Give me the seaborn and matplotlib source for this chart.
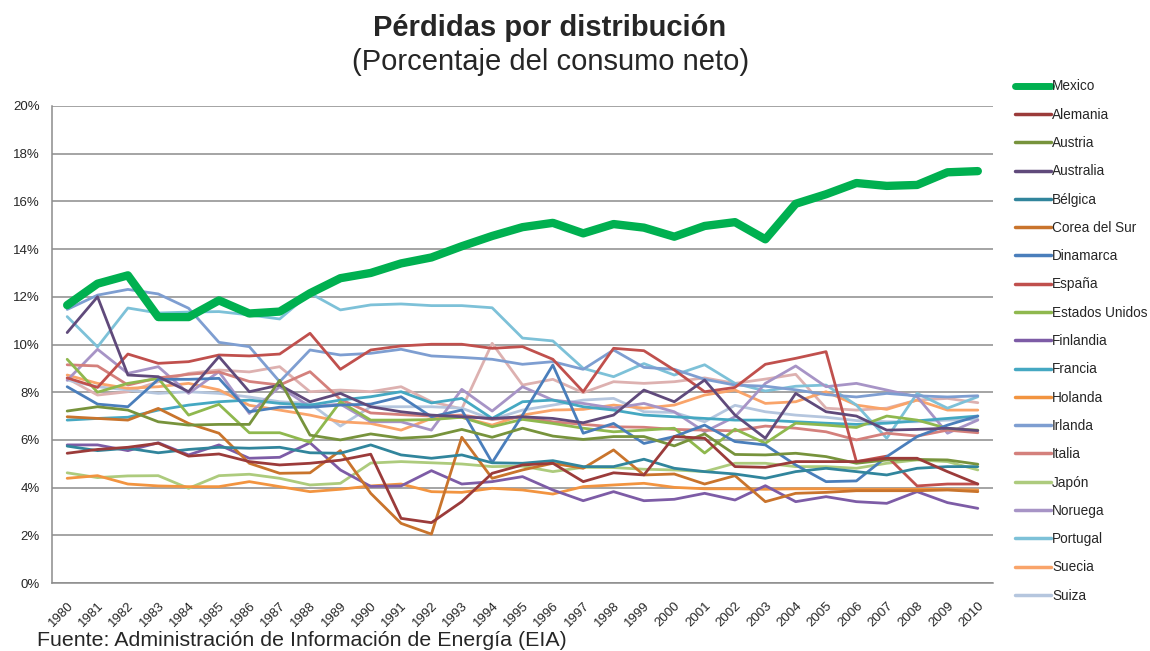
import pandas as pd
import matplotlib
matplotlib.use("Agg")
import matplotlib.pyplot as plt
import seaborn as sns
from matplotlib.lines import Line2D
from matplotlib.ticker import MultipleLocator, FuncFormatter

# Data: distribution losses (% of net consumption), 1980-2010
years = list(range(1980, 2011))

mexico = [11.65, 12.55, 12.9, 11.15, 11.15, 11.85, 11.3, 11.38, 12.15, 12.78, 13.0,
          13.4, 13.65, 14.12, 14.55, 14.92, 15.1, 14.66, 15.05, 14.9, 14.52,
          14.97, 15.13, 14.41, 15.9, 16.3, 16.77, 16.65, 16.69, 17.22, 17.27]
alemania = [5.44, 5.6, 5.69, 5.86, 5.32, 5.41, 5.09, 4.95, 5.02, 5.15, 5.4,
            2.71, 2.53, 3.41, 4.6, 4.95, 5.02, 4.25, 4.62, 4.53, 6.14,
            6.07, 4.88, 4.85, 5.09, 5.09, 5.09, 5.23, 5.23, 4.67, 4.15]
austria = [7.21, 7.39, 7.25, 6.76, 6.62, 6.65, 6.65, 8.5, 6.2, 6.0, 6.25,
           6.07, 6.14, 6.44, 6.11, 6.49, 6.16, 6.02, 6.14, 6.14, 5.75,
           6.25, 5.39, 5.37, 5.44, 5.3, 5.02, 5.16, 5.18, 5.16, 4.98]
australia = [10.5, 12.0, 8.72, 8.65, 8.02, 9.49, 8.02, 8.3, 7.6, 7.95, 7.39,
             7.18, 7.04, 6.97, 6.9, 6.97, 6.9, 6.72, 7.04, 8.09, 7.6,
             8.51, 7.04, 6.07, 7.95, 7.18, 7.0, 6.41, 6.44, 6.49, 6.39]
belgica = [5.74, 5.55, 5.65, 5.46, 5.6, 5.69, 5.65, 5.69, 5.46, 5.44, 5.79,
           5.37, 5.23, 5.37, 5.04, 5.02, 5.13, 4.88, 4.88, 5.19, 4.81,
           4.67, 4.57, 4.39, 4.67, 4.81, 4.67, 4.53, 4.81, 4.88, 4.88]
corea = [6.97, 6.9, 6.83, 7.32, 6.69, 6.28, 5.02, 4.6, 4.62, 5.55, 3.76,
         2.5, 2.05, 6.11, 4.39, 4.74, 5.02, 4.81, 5.58, 4.53, 4.57,
         4.15, 4.5, 3.41, 3.76, 3.8, 3.87, 3.87, 3.87, 3.9, 3.83]
dinamarca = [8.23, 7.5, 7.39, 8.54, 8.54, 8.58, 7.18, 7.37, 7.37, 7.46, 7.5,
             7.81, 6.97, 7.25, 5.05, 7.04, 9.14, 6.28, 6.69, 5.85, 6.14,
             6.62, 5.93, 5.79, 4.95, 4.25, 4.28, 5.3, 6.14, 6.62, 7.0]
espana = [8.6, 8.2, 9.6, 9.21, 9.28, 9.56, 9.52, 9.6, 10.47, 8.96, 9.77,
          9.94, 10.01, 10.01, 9.84, 9.91, 9.38, 8.02, 9.84, 9.74, 8.93,
          8.02, 8.2, 9.17, 9.42, 9.7, 5.09, 5.32, 4.07, 4.15, 4.15]
estados_unidos = [9.38, 8.0, 8.37, 8.58, 7.04, 7.49, 6.3, 6.3, 5.9, 7.6, 6.83,
                  6.83, 6.85, 6.95, 6.55, 6.86, 6.69, 6.49, 6.34, 6.41, 6.49,
                  5.45, 6.45, 5.86, 6.7, 6.62, 6.52, 7.0, 6.83, 6.48, 6.41]
finlandia = [5.79, 5.79, 5.55, 5.88, 5.37, 5.79, 5.23, 5.27, 5.88, 4.74, 4.05,
             4.07, 4.71, 4.15, 4.25, 4.46, 3.9, 3.45, 3.83, 3.45, 3.51,
             3.76, 3.48, 4.08, 3.41, 3.62, 3.41, 3.34, 3.83, 3.37, 3.13]
francia = [6.83, 6.9, 6.95, 7.25, 7.46, 7.6, 7.67, 7.53, 7.46, 7.67, 7.81,
           8.02, 7.55, 7.74, 6.9, 7.6, 7.67, 7.39, 7.25, 7.04, 6.97,
           6.9, 6.83, 6.83, 6.76, 6.7, 6.65, 6.7, 6.8, 6.9, 7.0]
holanda = [4.39, 4.5, 4.15, 4.07, 4.04, 4.04, 4.25, 4.04, 3.83, 3.93, 4.07,
           4.15, 3.83, 3.8, 3.97, 3.9, 3.73, 4.04, 4.11, 4.18, 4.01,
           3.95, 3.95, 3.93, 3.95, 3.95, 3.93, 3.93, 3.93, 3.92, 3.9]
irlanda = [11.47, 12.07, 12.31, 12.12, 11.52, 10.09, 9.91, 8.44, 9.77, 9.56, 9.63,
           9.8, 9.52, 9.46, 9.38, 9.17, 9.28, 8.96, 9.77, 9.04, 8.96,
           8.54, 8.3, 8.25, 8.1, 7.9, 7.8, 7.95, 7.85, 7.8, 7.85]
italia = [9.15, 9.1, 8.3, 8.6, 8.75, 8.85, 8.45, 8.3, 8.86, 7.7, 7.13,
          7.06, 7.0, 7.04, 6.86, 6.95, 6.76, 6.65, 6.55, 6.53, 6.44,
          6.41, 6.38, 6.58, 6.49, 6.34, 6.0, 6.28, 6.16, 6.41, 6.3]
japon = [4.62, 4.42, 4.49, 4.5, 3.97, 4.5, 4.56, 4.39, 4.11, 4.18, 5.03,
         5.09, 5.04, 4.99, 4.88, 4.9, 4.67, 4.85, 4.84, 4.77, 4.74,
         4.67, 5.02, 5.02, 4.88, 4.88, 4.81, 5.02, 5.16, 5.09, 4.74]
noruega = [8.5, 9.8, 8.79, 9.07, 7.95, 8.86, 7.11, 8.23, 7.39, 7.5, 6.76,
           6.76, 6.41, 8.12, 7.21, 8.23, 7.67, 7.53, 7.33, 7.53, 7.18,
           6.34, 6.97, 8.37, 9.1, 8.23, 8.37, 8.09, 7.81, 6.28, 6.83]
portugal = [11.17, 9.9, 11.53, 11.32, 11.36, 11.38, 11.24, 11.07, 12.15, 11.45, 11.66,
            11.7, 11.63, 11.63, 11.54, 10.27, 10.15, 9.0, 8.65, 9.2, 8.72,
            9.15, 8.37, 8.05, 8.25, 8.3, 7.46, 6.07, 7.95, 7.33, 7.81]
suecia = [8.72, 8.37, 8.16, 8.23, 8.37, 8.1, 7.45, 7.25, 7.04, 6.76, 6.69,
          6.41, 6.9, 6.95, 6.62, 7.04, 7.25, 7.28, 7.46, 7.33, 7.46,
          7.88, 8.09, 7.53, 7.6, 8.02, 7.46, 7.28, 7.67, 7.25, 7.25]
suiza = [8.51, 8.23, 8.09, 7.95, 8.02, 7.95, 7.8, 7.6, 7.53, 6.58, 7.39,
         7.39, 7.39, 7.33, 6.86, 7.25, 7.46, 7.67, 7.74, 7.18, 7.15,
         6.76, 7.45, 7.18, 7.04, 6.95, 6.81, 6.76, 6.76, 6.83, 6.86]
# one more series is drawn in the source chart but has no legend entry
sin_leyenda = [8.58, 7.88, 8.02, 8.44, 8.79, 8.93, 8.85, 9.07, 8.02, 8.09, 8.02,
               8.23, 7.6, 7.3, 10.05, 8.3, 8.54, 7.98, 8.44, 8.37, 8.44,
               8.6, 8.37, 8.55, 8.75, 7.33, 7.25, 7.33, 7.67, 7.74, 7.56]

countries = ["Mexico", "Alemania", "Austria", "Australia", "Bélgica", "Corea del Sur",
             "Dinamarca", "España", "Estados Unidos", "Finlandia", "Francia", "Holanda",
             "Irlanda", "Italia", "Japón", "Noruega", "Portugal", "Suecia", "Suiza"]
values = [mexico, alemania, austria, australia, belgica, corea, dinamarca, espana,
          estados_unidos, finlandia, francia, holanda, irlanda, italia, japon,
          noruega, portugal, suecia, suiza]
colors = ["#00B050", "#9B3B3A", "#77933C", "#604A7B", "#31859C", "#C9742C",
          "#4A7EBB", "#C0504D", "#8FB84E", "#7D5CA6", "#45A8C2", "#F29440",
          "#7E9ED1", "#D4807C", "#ADCB7D", "#A794C6", "#7DC1D8", "#F9A46A", "#B5C6DE"]

rows = []
for name, vals in zip(countries, values):
    for y, v in zip(years, vals):
        rows.append({"year": y, "pais": name, "valor": v})
for y, v in zip(years, sin_leyenda):
    rows.append({"year": y, "pais": "_extra", "valor": v})
df = pd.DataFrame(rows)

sns.set_style("white")
plt.rcParams["font.family"] = ["Liberation Sans", "DejaVu Sans"]

fig = plt.figure(figsize=(11.5, 6.51), dpi=100)
ax = fig.add_axes([52 / 1150, 1 - 583 / 651, 941 / 1150, 477 / 651])

# draw the thin lines first, Mexico last on top
sns.lineplot(data=df[df["pais"] == "_extra"], x="year", y="valor", color="#DDB1B0",
             linewidth=2.0, ax=ax, legend=False)
for name, col in list(zip(countries, colors))[:0:-1]:
    sns.lineplot(data=df[df["pais"] == name], x="year", y="valor", color=col,
                 linewidth=2.0, ax=ax, legend=False)
sns.lineplot(data=df[df["pais"] == "Mexico"], x="year", y="valor", color=colors[0],
             linewidth=6, ax=ax, legend=False, zorder=5)
for line in ax.get_lines():
    line.set_solid_capstyle("round")
    line.set_solid_joinstyle("round")

ax.set_xlim(1979.5, 2010.5)
ax.set_ylim(0, 20)
ax.yaxis.set_major_locator(MultipleLocator(2))
ax.yaxis.set_major_formatter(FuncFormatter(lambda v, p: f"{int(v)}%"))
ax.set_xticks(years)
ax.set_xticklabels([str(y) for y in years], rotation=45, ha="right",
                   rotation_mode="anchor", fontsize=9.5)
ax.set_xticks([y + 0.5 for y in range(1979, 2011)], minor=True)
ax.tick_params(axis="x", which="major", length=0, pad=12)
ax.tick_params(axis="x", which="minor", length=5, width=1, color="#8C8C8C", direction="out")
ax.tick_params(axis="y", length=5, width=1, color="#8C8C8C", direction="out",
               labelsize=9.5, pad=4)
ax.grid(axis="y", color="#8C8C8C", linewidth=1.1)
ax.set_axisbelow(True)
for s in ["top", "right"]:
    ax.spines[s].set_visible(False)
for s in ["left", "bottom"]:
    ax.spines[s].set_color("#8C8C8C")
    ax.spines[s].set_linewidth(1.1)
ax.set_xlabel("")
ax.set_ylabel("")

handles = [Line2D([0], [0], color=c, linewidth=(5 if n == "Mexico" else 2.5))
           for n, c in zip(countries, colors)]
fig.legend(handles, countries, loc="upper left", bbox_to_anchor=(1010 / 1150, 1 - 74 / 651),
           frameon=False, fontsize=9.8, handlelength=2.6, handletextpad=0.1,
           labelspacing=1.05, borderaxespad=0)

fig.text(550 / 1150, 1 - 28 / 651, "Pérdidas por distribución", ha="center", va="center",
         fontsize=21, fontweight="bold")
fig.text(551 / 1150, 1 - 62 / 651, "(Porcentaje del consumo neto)", ha="center",
         va="center", fontsize=21)
fig.text(37 / 1150, 1 - 641 / 651, "Fuente: Administración de Información de Energía (EIA)",
         ha="left", va="center", fontsize=15.4)

fig.savefig("out.png", dpi=100)
